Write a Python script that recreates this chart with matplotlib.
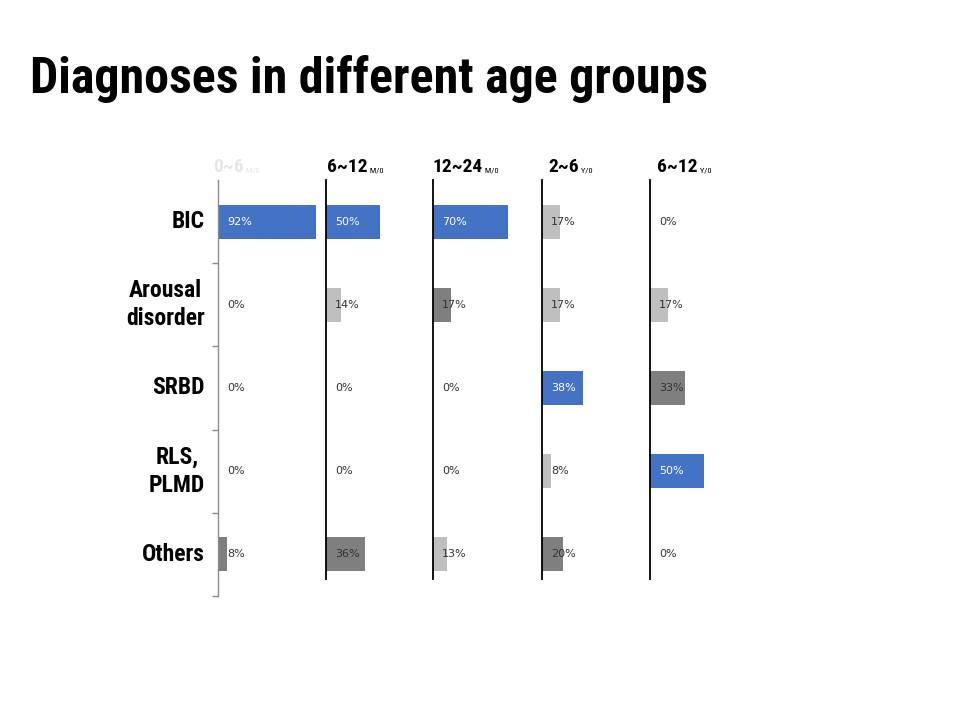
import numpy as np
import matplotlib
matplotlib.use("Agg")
import matplotlib.pyplot as plt
from matplotlib import font_manager as fm

# data
categories = ["BIC", "Arousal\ndisorder", "SRBD", "RLS,\nPLMD", "Others"]
age_groups = ["0~6", "6~12", "12~24", "2~6", "6~12"]
age_units = ["M/0", "M/0", "M/0", "Y/0", "Y/0"]
pct_0_6m = [92, 0, 0, 0, 8]
pct_6_12m = [50, 14, 0, 0, 36]
pct_12_24m = [70, 17, 0, 0, 13]
pct_2_6y = [17, 17, 38, 8, 20]
pct_6_12y = [0, 17, 33, 50, 0]
panels = [pct_0_6m, pct_6_12m, pct_12_24m, pct_2_6y, pct_6_12y]

BLUE = "#4472C4"
DARK = "#7F7F7F"
LIGHT = "#BFBFBF"

names = {f.name for f in fm.fontManager.ttflist}


def pick(cands):
    for c in cands:
        if c in names:
            return c
    return "DejaVu Sans"


HEAVY = pick(["Roboto Condensed", "Liberation Sans Narrow", "DejaVu Sans"])
BODY = "DejaVu Sans"

W, H = 960, 720
fig = plt.figure(figsize=(W / 100, H / 100), dpi=100)


def px_axes(x0, y0, w, h):
    return fig.add_axes([x0 / W, 1 - (y0 + h) / H, w / W, h / H])


fig.text(30 / W, 1 - 93 / H, "Diagnoses in different age groups", fontsize=36,
         fontweight="black", family=HEAVY, ha="left", va="baseline")

AX_X = [218, 326, 433, 542, 650]
HEADER_X = [213, 327, 433, 548, 657]
TOP, BOTTOM = 180, 596
n = len(categories)
ypos = np.arange(n)

for k, vals in enumerate(panels):
    ax = px_axes(AX_X[k], TOP, 107, BOTTOM - TOP)
    ax.set_xlim(0, 100)
    ax.set_ylim(n - 0.5, -0.5)
    ax.patch.set_alpha(0)
    # biggest share blue, second dark grey, the rest light grey
    order = np.argsort(vals)[::-1]
    colors = [LIGHT] * n
    colors[order[0]] = BLUE
    colors[order[1]] = DARK
    ax.barh(ypos, vals, height=0.41, color=colors)
    for i, v in enumerate(vals):
        ax.annotate(f"{v}%", xy=(0, i), xytext=(6.5, 0), textcoords="offset points",
                    va="center", ha="left", fontsize=8, family=BODY,
                    color="white" if colors[i] == BLUE else "#333333")
    for s in ["top", "right", "bottom"]:
        ax.spines[s].set_visible(False)
    ax.set_xticks([])
    if k == 0:
        ax.spines["left"].set_color("#8C8C8C")
        ax.spines["left"].set_linewidth(1.0)
        ax.set_yticks(ypos + 0.5)
        ax.set_yticklabels([])
        ax.tick_params(axis="y", length=4, color="#8C8C8C", width=1)
        for i, c in enumerate(categories):
            ax.text(-13 / 1.07, i, c, ha="right", va="center", multialignment="center",
                    fontsize=17, fontweight="black", family=HEAVY, linespacing=1.3)
    else:
        ax.spines["left"].set_color("black")
        ax.spines["left"].set_linewidth(1.3)
        ax.spines["left"].set_bounds(-0.5, -0.5 + (579 - TOP) / 83.2)
        ax.set_yticks([])

    hc = "#E6E6E6" if k == 0 else "black"
    t = fig.text(HEADER_X[k] / W, 1 - 172 / H, age_groups[k], fontsize=14,
                 fontweight="black", family=HEAVY, color=hc, ha="left", va="baseline")
    ax.annotate(" " + age_units[k], xy=(1, 0.22), xycoords=t, va="baseline", ha="left",
                fontsize=6, family=HEAVY, color=hc, annotation_clip=False)

fig.savefig("out.png", dpi=100, facecolor="white")
